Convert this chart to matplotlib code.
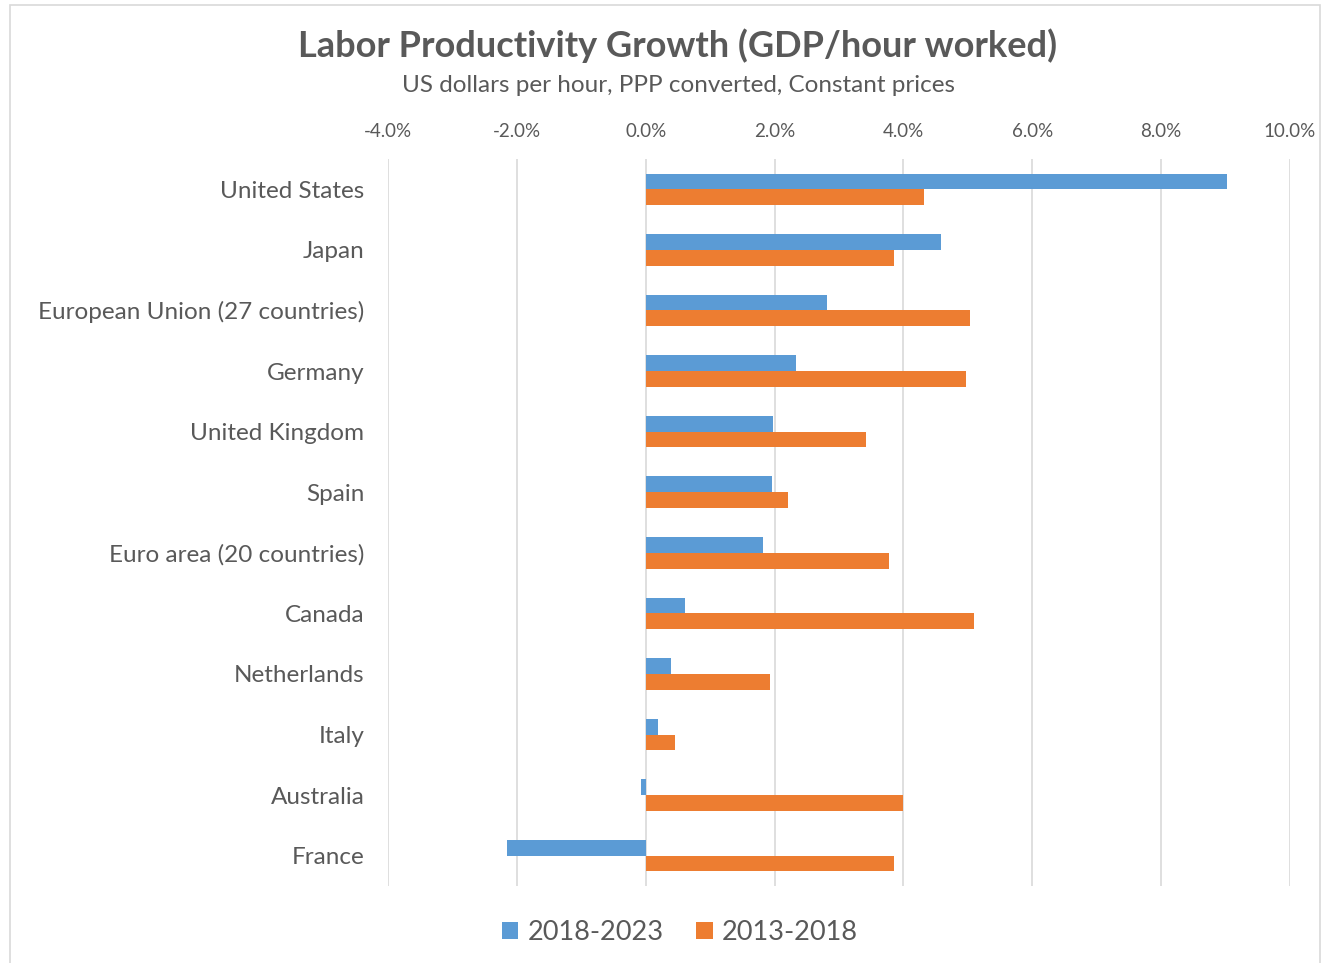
import matplotlib.pyplot as plt
import matplotlib.patches as mpatches
from matplotlib.ticker import FuncFormatter
import numpy as np

plt.rcParams['font.family'] = ['Lato', 'DejaVu Sans']

## Data (percent growth)
countries = ["United States", "Japan", "European Union (27 countries)", "Germany",
             "United Kingdom", "Spain", "Euro area (20 countries)", "Canada",
             "Netherlands", "Italy", "Australia", "France"]
growth_2018_2023 = [9.02, 4.58, 2.81, 2.33, 1.97, 1.96, 1.82, 0.61, 0.39, 0.19, -0.08, -2.16]
growth_2013_2018 = [4.32, 3.85, 5.03, 4.97, 3.42, 2.20, 3.77, 5.09, 1.93, 0.45, 3.99, 3.85]
x_ticks = [-4, -2, 0, 2, 4, 6, 8, 10]

text_col = '#595959'
blue = '#5B9BD5'
orange = '#ED7D31'

fig = plt.figure(figsize=(13.23, 9.63), dpi=100)
ax = fig.add_axes([0.2933, 0.080, 0.6818, 0.7549])

#Bars: blue sits just above the category centre, orange just below.
y = np.arange(len(countries))
h = 0.26
ax.barh(y - h/2, growth_2018_2023, height=h, color=blue, label='2018-2023', zorder=3)
ax.barh(y + h/2, growth_2013_2018, height=h, color=orange, label='2013-2018', zorder=3)

ax.set_ylim(len(countries) - 0.5, -0.5)
ax.set_yticks(y)
ax.set_yticklabels(countries, fontsize=17.5, color=text_col)
ax.set_xlim(-4, 10)
ax.set_xticks(x_ticks)
ax.xaxis.set_major_formatter(FuncFormatter(lambda v, p: f"{v:.1f}%"))
ax.xaxis.tick_top()
ax.tick_params(axis='x', labelsize=13.5, labelcolor=text_col, length=0, pad=14)
ax.tick_params(axis='y', length=0, pad=17)
ax.grid(axis='x', color='#D9D9D9', linewidth=1.2, zorder=0)
for s in ax.spines.values():
    s.set_visible(False)

fig.text(0.5125, 0.953, 'Labor Productivity Growth (GDP/hour worked)', ha='center', va='center',
         fontsize=26, fontweight='bold', color=text_col)
fig.text(0.5125, 0.911, 'US dollars per hour, PPP converted, Constant prices', ha='center', va='center',
         fontsize=17.5, color=text_col)

fig.legend(loc='center', bbox_to_anchor=(0.514, 0.032), ncol=2, frameon=False,
           fontsize=19.5, labelcolor=text_col, handlelength=0.6, handleheight=0.6,
           handletextpad=0.35, columnspacing=1.2)

#Faint chart-area border like the original export
fig.patches.append(mpatches.Rectangle((0.0076, -0.01), 0.99, 1.005, transform=fig.transFigure,
                                      fill=False, edgecolor='#D9D9D9', linewidth=1.2))

fig.savefig('out.png', dpi=100)
